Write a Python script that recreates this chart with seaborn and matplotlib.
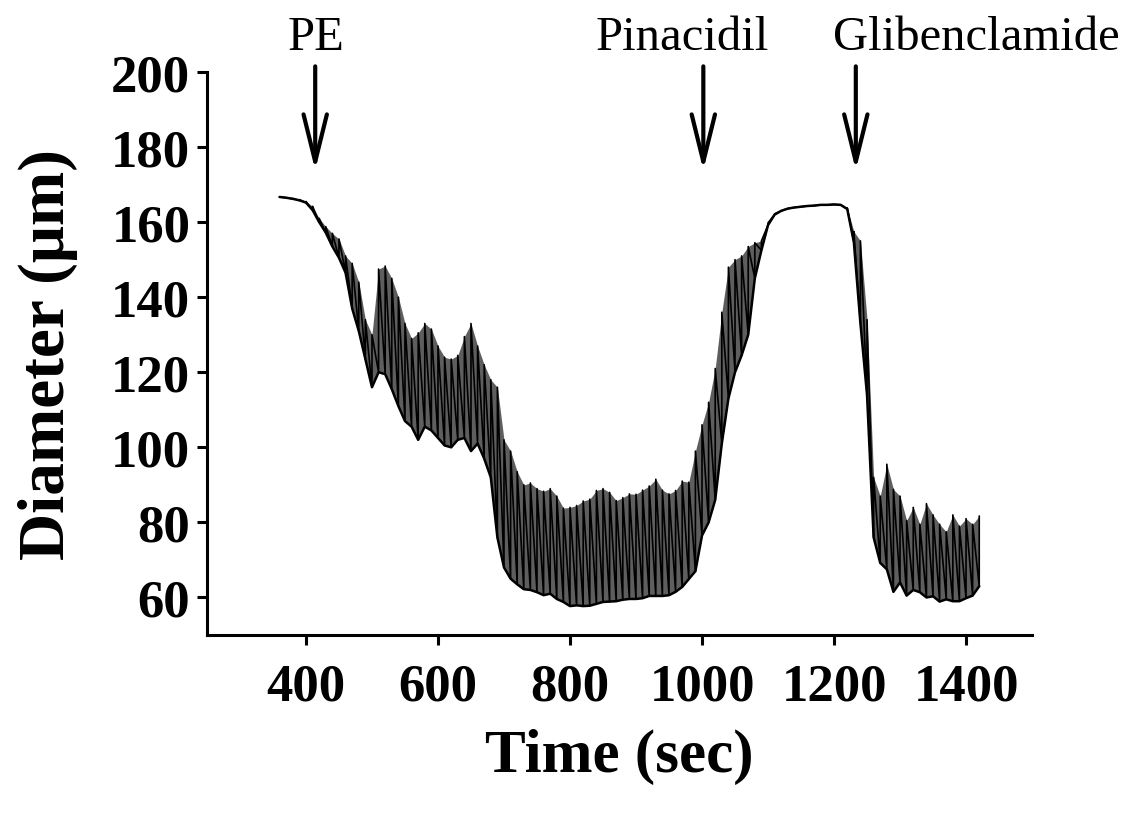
import numpy as np
import pandas as pd
import matplotlib
matplotlib.use("Agg")
import matplotlib.pyplot as plt
import seaborn as sns

time_s = np.arange(360, 1421, 10)

# spike tops (um)
peak_um = [
    166.7, 166.5, 166.3, 166.0, 165.5, 164.2, 161.0, 158.8, 157.0, 155.5,
    151.0, 149.0, 144.0, 134.0, 130.0, 147.5, 148.3, 145.0, 140.0, 133.0,
    129.0, 130.5, 133.0, 131.5, 127.0, 124.0, 123.5, 124.5, 129.5, 133.0,
    127.0, 122.0, 118.0, 116.0, 102.0, 99.0, 93.5, 90.0, 90.5, 89.0,
    88.3, 89.0, 87.0, 83.8, 84.0, 84.5, 85.7, 86.2, 88.5, 89.0,
    88.0, 85.8, 86.6, 87.6, 87.5, 88.6, 89.7, 91.5, 88.6, 87.6,
    88.5, 91.0, 90.7, 99.0, 106.0, 112.0, 121.0, 136.0, 148.0, 150.0,
    151.0, 153.5, 154.5, 155.0, 159.8, 162.2, 163.0, 163.6, 163.9, 164.1,
    164.3, 164.4, 164.6, 164.6, 164.7, 164.6, 163.8, 157.5, 155.0, 134.0,
    92.0, 87.0, 95.5, 88.8, 87.0, 80.5, 84.0, 79.5, 85.0, 82.0,
    79.5, 77.5, 82.0, 79.0, 81.0, 79.5, 81.7,
]

# troughs between spikes (um)
trough_um = [
    166.7, 166.5, 166.2, 165.8, 165.2, 163.2, 160.0, 157.2, 153.5, 150.5,
    146.5, 137.0, 131.0, 123.5, 116.0, 120.0, 119.5, 115.5, 111.0, 107.0,
    105.5, 102.0, 105.5, 104.5, 102.5, 100.5, 100.0, 102.0, 102.5, 99.0,
    101.0, 97.0, 92.0, 76.0, 68.0, 65.0, 63.5, 62.2, 62.0, 61.4,
    60.6, 61.0, 59.6, 58.8, 57.7, 57.9, 57.7, 57.8, 58.3, 58.8,
    58.9, 59.0, 59.4, 59.6, 59.6, 59.8, 60.4, 60.4, 60.4, 60.6,
    61.5, 62.8, 64.9, 67.0, 76.5, 80.0, 86.0, 101.0, 113.0, 120.0,
    124.5, 130.0, 145.0, 152.5, 159.2, 162.0, 163.0, 163.6, 163.9, 164.1,
    164.3, 164.4, 164.6, 164.6, 164.7, 164.6, 163.5, 154.7, 133.0, 114.0,
    76.0, 69.2, 67.5, 61.5, 64.0, 60.5, 62.0, 61.4, 60.0, 60.3,
    58.9, 59.5, 59.0, 59.0, 59.8, 60.5, 63.0,
]

drugs = ["PE", "Pinacidil", "Glibenclamide"]
drug_time = [414, 1002, 1233]
label_time = [415, 970, 1415]

# trough -> spike -> trough ... in recording order
trace = pd.DataFrame({
    "time": np.repeat(time_s, 2),
    "diameter": np.column_stack([trough_um, peak_um]).ravel(),
})
base = pd.DataFrame({"time": time_s, "diameter": trough_um})

sns.set_theme(style="ticks")
plt.rcParams["font.family"] = ["Liberation Serif", "DejaVu Serif"]
plt.rcParams.update({"text.color": "black", "axes.labelcolor": "black",
                     "xtick.color": "black", "ytick.color": "black"})

fig = plt.figure(figsize=(11.39, 8.2), dpi=100)
ax = fig.add_axes([0.1817, 0.2244, 0.7244, 0.6866])

# grey band between troughs and spike tops, then the spikes themselves
ax.fill_between(time_s, trough_um, peak_um, color="#5e5e5e", lw=0, zorder=1)
sns.lineplot(data=trace, x="time", y="diameter", sort=False, estimator=None,
             color="black", lw=1.2, ax=ax, zorder=2)
sns.lineplot(data=base, x="time", y="diameter", sort=False, estimator=None,
             color="black", lw=1.8, ax=ax, zorder=3)

for name, t, tl in zip(drugs, drug_time, label_time):
    ax.annotate("", xy=(t, 173.8), xytext=(t, 201.5), annotation_clip=False,
                arrowprops=dict(arrowstyle="->,head_length=1.7,head_width=0.42",
                                lw=3, color="black", mutation_scale=20,
                                shrinkA=0, shrinkB=0))
    ax.text(tl, 206.0, name, ha="center", va="baseline", fontsize=35,
            clip_on=False)

ax.set_xlim(250, 1500)
ax.set_ylim(50, 200)
ax.set_xticks([400, 600, 800, 1000, 1200, 1400])
ax.set_yticks([60, 80, 100, 120, 140, 160, 180, 200])
ax.set_xlabel("Time (sec)", fontsize=44, fontweight="bold", labelpad=12)
ax.set_ylabel("Diameter (μm)", fontsize=47, fontweight="bold", labelpad=24)

for lab in ax.get_xticklabels() + ax.get_yticklabels():
    lab.set_fontweight("bold")
ax.tick_params(axis="both", labelsize=38, width=2.2, length=7, color="black")
ax.tick_params(axis="x", pad=13)
ax.tick_params(axis="y", pad=5)

sns.despine(ax=ax)
for side in ["left", "bottom"]:
    ax.spines[side].set_linewidth(2.2)
    ax.spines[side].set_color("black")

fig.savefig("out.png", dpi=100)
plt.close(fig)
